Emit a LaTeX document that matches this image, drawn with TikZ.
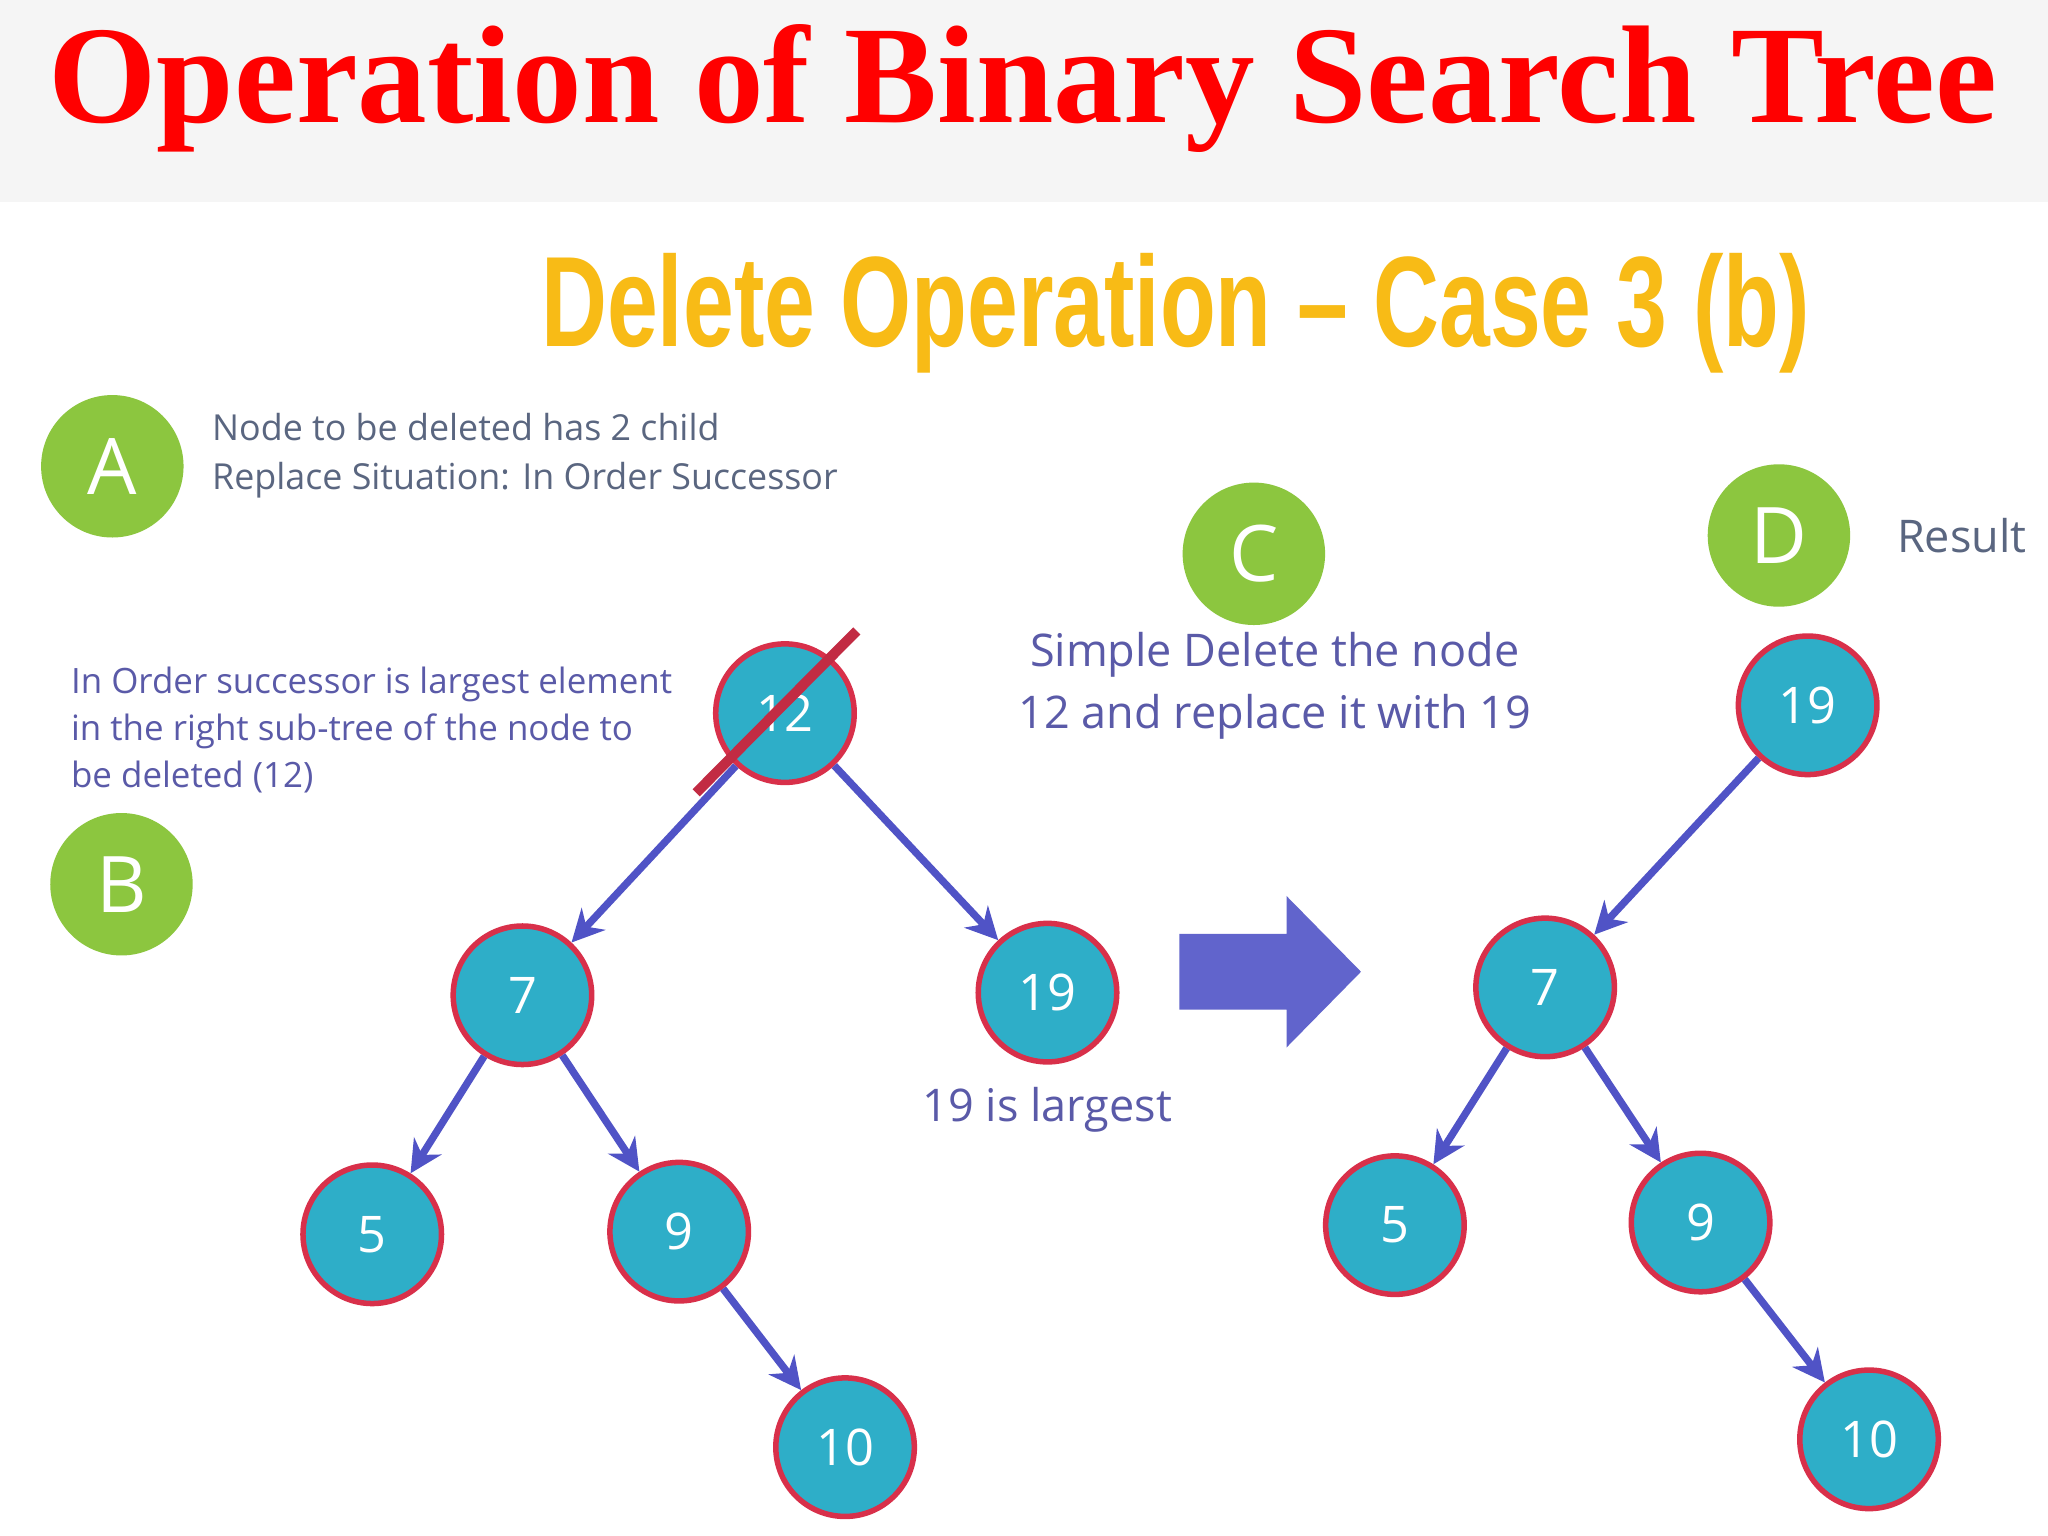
\documentclass[tikz,border=0pt]{standalone}
\usepackage{fontspec}
\setmainfont{Open Sans}
\newfontfamily\titlefont{Liberation Serif}
\newfontfamily\subfont{Liberation Sans}
\usetikzlibrary{arrows.meta}
\definecolor{teal1}{HTML}{2EAEC8}
\definecolor{crim}{HTML}{D8304A}
\definecolor{grn}{HTML}{8CC63F}
\definecolor{edge}{HTML}{5053C6}
\definecolor{txt}{HTML}{5A5AA8}
\definecolor{txtg}{HTML}{5A6680}
\definecolor{orng}{HTML}{F8BB16}
\tikzset{
 bst/.style={circle,fill=teal1,draw=crim,line width=1.2pt,minimum size=1.06cm,inner sep=0pt,text=white,font=\fontsize{11}{13}\selectfont},
 lbl/.style={circle,fill=grn,minimum size=1.09cm,inner sep=0pt,text=white,font=\fontsize{17}{19}\selectfont},
 edg/.style={draw=edge,line width=1.6pt,-{Stealth[length=7pt,width=7pt]}},
 tx/.style={text=txt,font=\fontsize{9.8}{13.5}\selectfont,align=left}
}
\begin{document}
\begin{tikzpicture}[x=0.01cm,y=-0.01cm]
\useasboundingbox (0,0) rectangle (1568,1176);
\fill[white] (0,0) rectangle (1568,1176);
\fill[gray!8] (0,0) rectangle (1568,155);
\node[text=red,font=\titlefont\bfseries\fontsize{30.3}{33}\selectfont] (title) at (783,68) {Operation of Binary Search Tree};
\node[text=orng,font=\subfont\bfseries\fontsize{28}{30}\selectfont,xscale=0.71] (sub) at (900,240) {Delete Operation \textendash\ Case 3 (b)};
\node[lbl] (A) at (86,357) {A};
\node[lbl] (B) at (93,677) {B};
\node[lbl] (C) at (960,424) {C};
\node[lbl] (D) at (1362,410) {D};
\node[tx,text=txtg,font=\fontsize{7.8}{10.6}\selectfont,anchor=west] (At) at (150,349) {Node to be deleted has 2 child\\Replace Situation: In Order Successor};
\node[tx,font=\fontsize{7.6}{10.2}\selectfont,anchor=west] (Bt) at (42,559) {In Order successor is largest element\\in the right sub-tree of the node to\\be deleted (12)};
\node[tx,align=center,font=\fontsize{9.8}{13.5}\selectfont] (Ct) at (976,525) {Simple Delete the node\\12 and replace it with 19};
\node[tx,text=txtg] (Dt) at (1502,410) {Result};
\node[tx] (lg) at (802,850) {19 is largest};
% left tree
\node[bst] (n12) at (601,546) {12};
\node[bst] (n7) at (400,762) {7};
\node[bst] (n19) at (802,760) {19};
\node[bst] (n5) at (285,945) {5};
\node[bst] (n9) at (520,943) {9};
\node[bst] (n10) at (647,1108) {10};
\draw[edg] (n12) -- (n7);
\draw[edg] (n12) -- (n19);
\draw[edg] (n7) -- (n5);
\draw[edg] (n7) -- (n9);
\draw[edg] (n9) -- (n10);
\coordinate (s1) at (533,607);
\coordinate (s2) at (656,483);
\draw[crim!90!black,line width=2.2pt] (s1) -- (s2);
% arrow
\fill[edge!90] (903,715) -- (985,715) -- (985,686) -- (1042,744) -- (985,802) -- (985,773) -- (903,773) -- cycle;
% right tree
\node[bst] (m19) at (1384,540) {19};
\node[bst] (m7) at (1183,756) {7};
\node[bst] (m5) at (1068,938) {5};
\node[bst] (m9) at (1302,936) {9};
\node[bst] (m10) at (1431,1102) {10};
\draw[edg] (m19) -- (m7);
\draw[edg] (m7) -- (m5);
\draw[edg] (m7) -- (m9);
\draw[edg] (m9) -- (m10);
\end{tikzpicture}
\end{document}
